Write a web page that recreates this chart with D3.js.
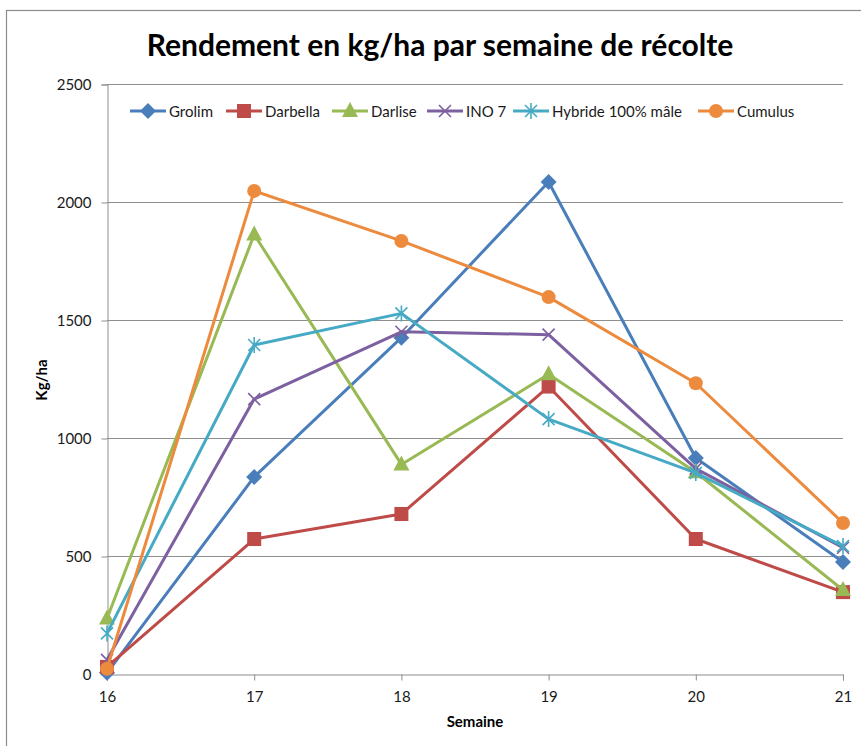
<!DOCTYPE html>
<html>
<head>
<meta charset="utf-8">
<script src="https://cdn.jsdelivr.net/npm/d3@7"></script>
<style>
body { margin: 0; background: #fff; }
svg { font-family: Lato, "Open Sans", sans-serif; }
</style>
</head>
<body>
<div id="chart"></div>
<script>
"use strict"
// data
const weeks = [16, 17, 18, 19, 20, 21];
const yTicks = [0, 500, 1000, 1500, 2000, 2500];
const seriesNames = ["Grolim", "Darbella", "Darlise", "INO 7", "Hybride 100% mâle", "Cumulus"];
const grolim   = [5, 835, 1425, 2085, 915, 475];
const darbella = [30, 572, 678, 1218, 572, 347];
const darlise  = [235, 1862, 888, 1270, 855, 356];
const ino7     = [60, 1165, 1450, 1438, 870, 535];
const hybride  = [172, 1394, 1528, 1080, 852, 542];
const cumulus  = [22, 2047, 1835, 1597, 1232, 640];

const colors = ["#4A7EBB", "#BE4B48", "#98B954", "#7D60A0", "#46AAC5", "#EC8A3E"];
const shapes = ["diamond", "square", "triangle", "cross", "star", "circle"];
const allSeries = [grolim, darbella, darlise, ino7, hybride, cumulus];

const fullWidth = 861, fullHeight = 746;
const plotLeft = 107, plotRight = 843, plotTop = 84, plotBottom = 674;

const svg = d3.select("#chart").append("svg")
    .attr("width", fullWidth).attr("height", fullHeight);

// chart frame
svg.append("rect").attr("x", 6.5).attr("y", 10.5)
    .attr("width", 900).attr("height", 800)
    .attr("fill", "white").attr("stroke", "#8c8c8c").attr("stroke-width", 1.2);

const xScale = d3.scaleLinear().domain([16, 21]).range([plotLeft, plotRight]);
const yScale = d3.scaleLinear().domain([0, 2500]).range([plotBottom, plotTop]);

// grid lines
svg.append("g").selectAll("line").data(yTicks.slice(1)).enter().append("line")
    .attr("x1", plotLeft).attr("x2", plotRight)
    .attr("y1", d => yScale(d) + 0.5).attr("y2", d => yScale(d) + 0.5)
    .attr("stroke", "#8e8e8e").attr("stroke-width", 1);

// axes
const yAxis = d3.axisLeft(yScale).tickValues(yTicks).tickSize(6).tickPadding(10).tickFormat(d3.format("d"));
const gy = svg.append("g").attr("transform", "translate(" + (plotLeft + 0.5) + ",0.5)").call(yAxis);
const xAxis = d3.axisBottom(xScale).tickValues(weeks).tickSize(6).tickPadding(11).tickFormat(d3.format("d"));
const gx = svg.append("g").attr("transform", "translate(0," + (plotBottom + 0.5) + ")").call(xAxis);
[gx, gy].forEach(g => {
    g.select(".domain").attr("stroke", "#8e8e8e");
    g.selectAll(".tick line").attr("stroke", "#8e8e8e");
    g.selectAll(".tick text").attr("fill", "#1a1a1a").style("font-size", "15px")
        .style("font-family", "Lato, sans-serif");
});

// titles
svg.append("text").attr("x", 440).attr("y", 56).attr("text-anchor", "middle")
    .style("font-size", "30px").style("font-weight", "bold").attr("fill", "#000")
    .text("Rendement en kg/ha par semaine de récolte");
svg.append("text").attr("x", 475).attr("y", 727).attr("text-anchor", "middle")
    .style("font-size", "15px").style("font-weight", "bold")
    .text("Semaine");
svg.append("text").attr("transform", "translate(47,380) rotate(-90)").attr("text-anchor", "middle")
    .style("font-size", "15px").style("font-weight", "bold")
    .text("Kg/ha");

function drawMarker(g, shape, color, x, y) {
    if (shape == "diamond") {
        g.append("path").attr("d", "M" + x + "," + (y - 8) + "L" + (x + 8) + "," + y + "L" + x + "," + (y + 8) + "L" + (x - 8) + "," + y + "Z")
            .attr("fill", color);
    } else if (shape == "square") {
        g.append("rect").attr("x", x - 7).attr("y", y - 7).attr("width", 14).attr("height", 14).attr("fill", color);
    } else if (shape == "triangle") {
        g.append("path").attr("d", "M" + x + "," + (y - 9) + "L" + (x + 8) + "," + (y + 6) + "L" + (x - 8) + "," + (y + 6) + "Z")
            .attr("fill", color);
    } else if (shape == "cross") {
        g.append("path").attr("d", "M" + (x - 6) + "," + (y - 6) + "L" + (x + 6) + "," + (y + 6) + "M" + (x + 6) + "," + (y - 6) + "L" + (x - 6) + "," + (y + 6))
            .attr("stroke", color).attr("stroke-width", 1.6);
    } else if (shape == "star") {
        g.append("path").attr("d", "M" + (x - 6) + "," + (y - 6) + "L" + (x + 6) + "," + (y + 6) + "M" + (x + 6) + "," + (y - 6) + "L" + (x - 6) + "," + (y + 6) + "M" + x + "," + (y - 8) + "L" + x + "," + (y + 8))
            .attr("stroke", color).attr("stroke-width", 1.6);
    } else {
        g.append("circle").attr("cx", x).attr("cy", y).attr("r", 7).attr("fill", color);
    }
}

// series
const line = d3.line().x((d, i) => xScale(weeks[i])).y(d => yScale(d));
allSeries.forEach((vals, s) => {
    const g = svg.append("g");
    g.append("path").attr("d", line(vals)).attr("fill", "none")
        .attr("stroke", colors[s]).attr("stroke-width", 3).attr("stroke-linejoin", "round");
    vals.forEach((v, i) => drawMarker(g, shapes[s], colors[s], xScale(weeks[i]), yScale(v)));
});

// legend
const legendX = [130, 226, 332, 427, 513, 698];
const legend = svg.append("g");
seriesNames.forEach((name, s) => {
    const lx = legendX[s], ly = 111;
    legend.append("line").attr("x1", lx).attr("x2", lx + 36).attr("y1", ly).attr("y2", ly)
        .attr("stroke", colors[s]).attr("stroke-width", 3);
    drawMarker(legend, shapes[s], colors[s], lx + 18, ly);
    legend.append("text").attr("x", lx + 39).attr("y", ly + 5.5)
        .style("font-size", "15px").attr("fill", "#1a1a1a").text(name);
});
</script>
</body>
</html>
